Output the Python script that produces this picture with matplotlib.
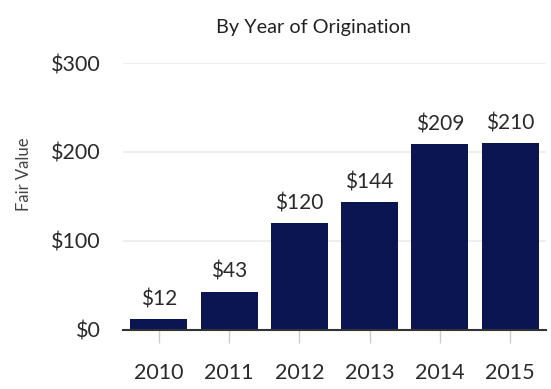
import matplotlib
matplotlib.use("Agg")
import matplotlib.pyplot as plt

# fair value by year of origination, $ millions
years = ["2010", "2011", "2012", "2013", "2014", "2015"]
fair_value = [12, 43, 120, 144, 209, 210]
y_ticks = [0, 100, 200, 300]

navy = "#0b1551"

plt.rcParams["font.family"] = ["Lato", "DejaVu Sans"]

fig = plt.figure(figsize=(5.51, 3.89), dpi=100)
ax = fig.add_axes([123 / 551, 1 - 330 / 389, (546 - 123) / 551, (330 - 63) / 389])

x = range(len(years))
bars = ax.bar(x, fair_value, width=0.81, color=navy, zorder=3)

for xi, v in zip(x, fair_value):
    ax.text(xi, v + 11, f"${v}", ha="center", va="bottom",
            fontsize=15, color="#2a2a2a")

ax.set_xlim(-0.51, len(years) - 0.49)
ax.set_ylim(0, 300)
ax.set_yticks(y_ticks)
ax.set_yticklabels([f"${t}" for t in y_ticks])
ax.set_xticks(list(x))
ax.set_xticklabels(years)

ax.grid(axis="y", color="#ebebeb", linewidth=1.2, zorder=0)
for side in ["top", "right", "left"]:
    ax.spines[side].set_visible(False)
ax.spines["bottom"].set_color("#333333")
ax.spines["bottom"].set_linewidth(1.5)
ax.spines["bottom"].set_zorder(4)

ax.tick_params(axis="y", length=0, pad=16, labelsize=15.5, labelcolor="#2a2a2a")
ax.tick_params(axis="x", length=9, width=1, color="#cccccc", pad=15,
               labelsize=15.5, labelcolor="#2a2a2a")

fig.text(24 / 551, 1 - 174 / 389, "Fair Value", rotation=90, ha="center",
         va="center", fontsize=12, color="#444444")
fig.text(313 / 551, 1 - 27 / 389, "By Year of Origination", ha="center",
         va="center", fontsize=14.3, color="#222222")

fig.savefig("out.png", dpi=100)
